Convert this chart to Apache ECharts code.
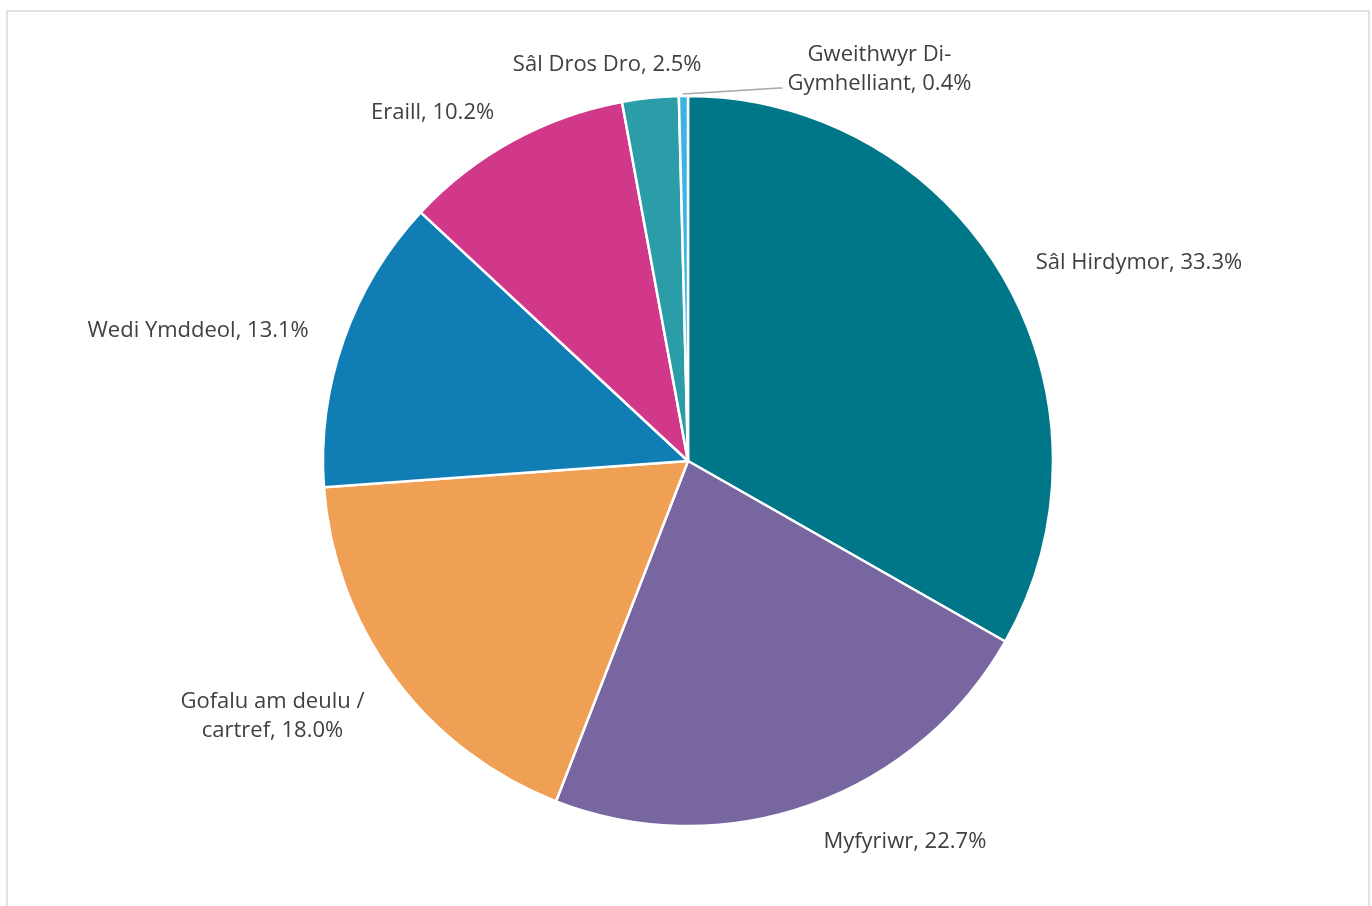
<!DOCTYPE html>
<html>
<head>
<meta charset="utf-8">
<script src="https://cdn.jsdelivr.net/npm/echarts@6/dist/echarts.min.js"></script>
<style>
html,body{margin:0;padding:0;background:#fff;}
#c{width:1372px;height:906px;}
</style>
</head>
<body>
<div id="c"></div>
<script>
const categories = ['Sâl Hirdymor', 'Myfyriwr', 'Gofalu am deulu / cartref', 'Wedi Ymddeol', 'Eraill', 'Sâl Dros Dro', 'Gweithwyr Di-Gymhelliant'];
const values = [33.3, 22.7, 18.0, 13.1, 10.2, 2.5, 0.4];
const colors = ['#007788', '#7866A1', '#F0A054', '#117DB5', '#D1388A', '#2A9DA8', '#3CB3E4'];
const lineBreaks = {'Gofalu am deulu / cartref': 'Gofalu am deulu /\ncartref', 'Gweithwyr Di-Gymhelliant': 'Gweithwyr Di-\nGymhelliant'};
const leaderIndex = 6;

const CX = 688, CY = 461, R = 365;
const LABEL_GAP = 36, SIDE_GAP = 1, LINE_H = 29, TEXT_DY = 3;
const FONT = '"Open Sans", sans-serif';
const FONT_SIZE = 22;

const total = values.reduce((a, b) => a + b, 0);
const midAngles = [];
let cum = 0;
values.forEach(v => { midAngles.push((cum + v / 2) / total * 2 * Math.PI); cum += v; });

const chart = echarts.init(document.getElementById('c'));
const data = categories.map((n, i) => {
  const d = {name: n, value: values[i], itemStyle: {color: colors[i]}};
  if (i === leaderIndex) {
    d.labelLine = {show: true, lineStyle: {color: '#A6A6A6', width: 1.5}};
  }
  return d;
});

function layoutLabel(params) {
  const i = params.dataIndex;
  const a = midAngles[i];
  const s = Math.sin(a), c = Math.cos(a);
  const w = params.labelRect.width, h = params.labelRect.height;
  if (i === leaderIndex) {
    const ex = CX + R * s, ey = CY - R * c;
    const p1 = [ex, ey - 2];
    const p2 = [ex + 96, ey - 8];
    const p3 = [ex + 99, ey - 8];
    return {
      x: p3[0] + 5 + w / 2, y: p3[1] - 22 + TEXT_DY,
      align: 'center', verticalAlign: 'middle',
      labelLinePoints: [[ex, ey], p1, p2, p3],
      hideOverlap: false
    };
  }
  const ax = CX + (R + LABEL_GAP) * s, ay = CY - (R + LABEL_GAP) * c;
  const f = Math.max(-1, Math.min(1, 4 * s));
  return {
    x: ax + (w / 2 + SIDE_GAP) * f,
    y: ay + (h - LINE_H) * (-c) * 0.8 + TEXT_DY,
    align: 'center', verticalAlign: 'middle',
    hideOverlap: false
  };
}

chart.setOption({
  backgroundColor: '#fff',
  animation: false,
  graphic: [{
    type: 'rect', shape: {x: 7, y: 11, width: 1362, height: 920},
    style: {fill: 'none', stroke: '#D9D9D9', lineWidth: 1.5}, silent: true, z: -1
  }],
  series: [{
    type: 'pie',
    center: [CX, CY],
    radius: [0, R],
    startAngle: 90,
    clockwise: true,
    avoidLabelOverlap: false,
    data: data,
    itemStyle: {borderColor: '#fff', borderWidth: 2.5},
    label: {
      show: true,
      position: 'outside',
      fontFamily: FONT,
      fontSize: FONT_SIZE,
      color: '#404040',
      lineHeight: LINE_H,
      formatter: p => {
        const t = (lineBreaks[p.name] || p.name) + ', ' + p.value.toFixed(1) + '%';
        return t.split('\n').map(s => '{c|' + s + '}').join('\n');
      },
      rich: {c: {align: 'center', fontFamily: FONT, fontSize: FONT_SIZE, color: '#404040', lineHeight: LINE_H}}
    },
    labelLine: {show: false},
    labelLayout: layoutLabel,
    emphasis: {disabled: true}
  }]
});
</script>
</body>
</html>
